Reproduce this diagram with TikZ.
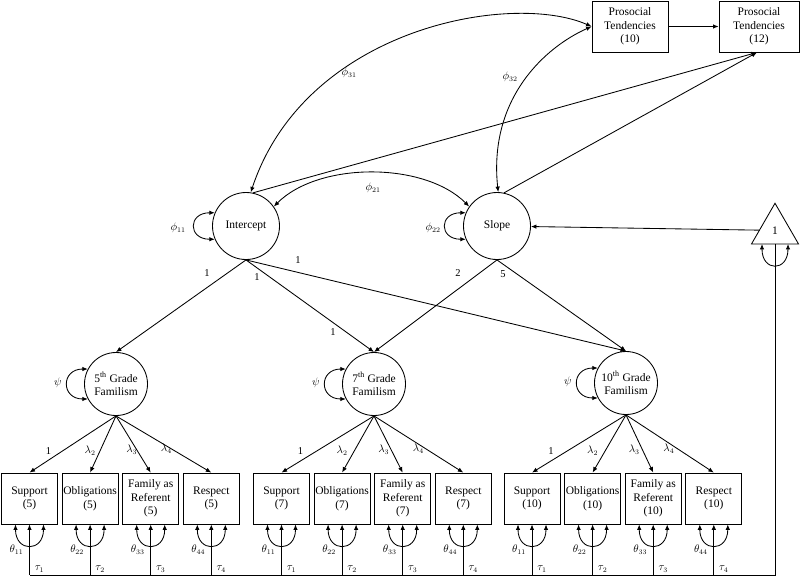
\documentclass[tikz,border=0pt]{standalone}
\usepackage{fontspec}
\setmainfont{Liberation Serif}
\usetikzlibrary{arrows.meta,shapes.geometric,calc}
\begin{document}
\begin{tikzpicture}[x=1pt,y=-1pt, line width=0.85pt,
  >={Latex[length=5.5pt,width=4.5pt]},
  every node/.style={font=\fontsize{11.5}{13.5}\selectfont},
  latent/.style={draw, circle, minimum size=67pt, inner sep=0pt, align=center},
  fam/.style={draw, circle, minimum size=63pt, inner sep=0pt, align=center},
  ind/.style={draw, rectangle, minimum width=56pt, minimum height=51pt, inner sep=0pt, align=center},
  obs/.style={draw, rectangle, minimum width=76pt, minimum height=51pt, inner sep=0pt, align=center},
  lbl/.style={font=\fontsize{10.5}{12}\selectfont, inner sep=0pt},
  dbl/.style={{Latex[length=5.5pt,width=4.5pt]}-{Latex[length=5.5pt,width=4.5pt]}},
]
\useasboundingbox (0,0) rectangle (800,582);

% observed outcomes
\node[obs] (P10) at (630,26.5) {Prosocial\\Tendencies\\(10)};
\node[obs, minimum width=80pt] (P12) at (759,26.5) {Prosocial\\Tendencies\\(12)};

% latent growth factors
\node[latent] (I) at (246,226) {Intercept};
\node[latent] (S) at (497,226) {Slope};
\node[draw, regular polygon, regular polygon sides=3, minimum size=54.3pt, inner sep=0pt, outer sep=0pt] (T) at (775,230.4) {1};

% familism factors
\node[fam] (F5) at (116,384) {5\textsuperscript{th} Grade\\Familism};
\node[fam] (F7) at (374,384) {7\textsuperscript{th} Grade\\Familism};
\node[fam] (F10) at (626,383) {10\textsuperscript{th} Grade\\Familism};

\coordinate (bl) at (0,575);

% indicators
\foreach \g/\xs in {5/29.5,7/281.5,10/532}{
  \node[ind] (Sup\g) at (\xs,498.5) {Support\\(\g)};
  \node[ind] (Obl\g) at (\xs+60.6,498.5) {Obligations\\(\g)};
  \node[ind] (Fam\g) at (\xs+121.2,498.5) {Family as\\Referent\\(\g)};
  \node[ind] (Res\g) at (\xs+181.8,498.5) {Respect\\(\g)};
}

\foreach \g in {5,7,10}{
  \foreach \b/\k in {Sup/1,Obl/2,Fam/3,Res/4}{
    \draw[->] (F\g.south) -- (\b\g.north);
    \draw[dbl] ([xshift=-14pt]\b\g.south) .. controls +(0,28) and +(0,28) .. ([xshift=14pt]\b\g.south);
    \draw[->] (\b\g.south |- bl) -- (\b\g.south);
    \node[lbl] at ($(\b\g.south)+(-13,25)$) {$\theta_{\k\k}$};
    \node[lbl] at ($(\b\g.south)+(10,45)$) {$\tau_{\k}$};
  }
  \node[lbl] at ($(Sup\g.north)+(19,-22)$) {1};
  \node[lbl] at ($(Obl\g.north)+(0,-22)$) {$\lambda_2$};
  \node[lbl] at ($(Fam\g.north)+(-19,-23)$) {$\lambda_3$};
  \node[lbl] at ($(Res\g.north)+(-45,-24)$) {$\lambda_4$};
  \draw[dbl] (F\g.152) .. controls +(-27,0) and +(-27,0) .. (F\g.208);
  \node[lbl] at ($(F\g)+(-58,-1)$) {$\psi$};
}

% mean structure
\draw[->] (T) -- (S);
\draw[dbl] ([xshift=-13pt]T.south) .. controls +(0,28) and +(0,28) .. ([xshift=13pt]T.south);
\draw (T.south) |- (Sup5.south |- bl);

% growth loadings
\draw[->] (I.south) -- (F5.north);
\draw[->] (I.south) -- (F7.north);
\draw[->] (I.south) -- (F10.north);
\draw[->] (S.south) -- (F7.north);
\draw[->] (S.south) -- (F10.north);
\node[lbl] at (207,273) {1};
\node[lbl] at (257,277) {1};
\node[lbl] at (298,260) {1};
\node[lbl] at (333,332) {1};
\node[lbl] at (458,273) {2};
\node[lbl] at (503,274) {5};

% variances and covariances
\draw[dbl] (I.157) .. controls +(-27,0) and +(-27,0) .. (I.203);
\draw[dbl] (S.157) .. controls +(-27,0) and +(-27,0) .. (S.203);
\node[lbl] at (178,228) {$\phi_{11}$};
\node[lbl] at (433,228) {$\phi_{22}$};
\draw[dbl] (I.35) .. controls +(45,-45) and +(-45,-45) .. (S.145);
\node[lbl] at (373,188) {$\phi_{21}$};
\draw[dbl] (I.82) .. controls +(55,-165) and +(-80,-35) .. (P10.west);
\node[lbl] at (349,73) {$\phi_{31}$};
\draw[dbl] (S.88) .. controls +(-10,-95) and +(-45,20) .. (P10.west);
\node[lbl] at (510,77) {$\phi_{32}$};

% regressions
\draw[->] (P10) -- (P12);
\draw[->] (I.78) -- ([xshift=-2pt]P12.south);
\draw[->] (S.78) -- ([xshift=-2pt]P12.south);
\end{tikzpicture}
\end{document}
